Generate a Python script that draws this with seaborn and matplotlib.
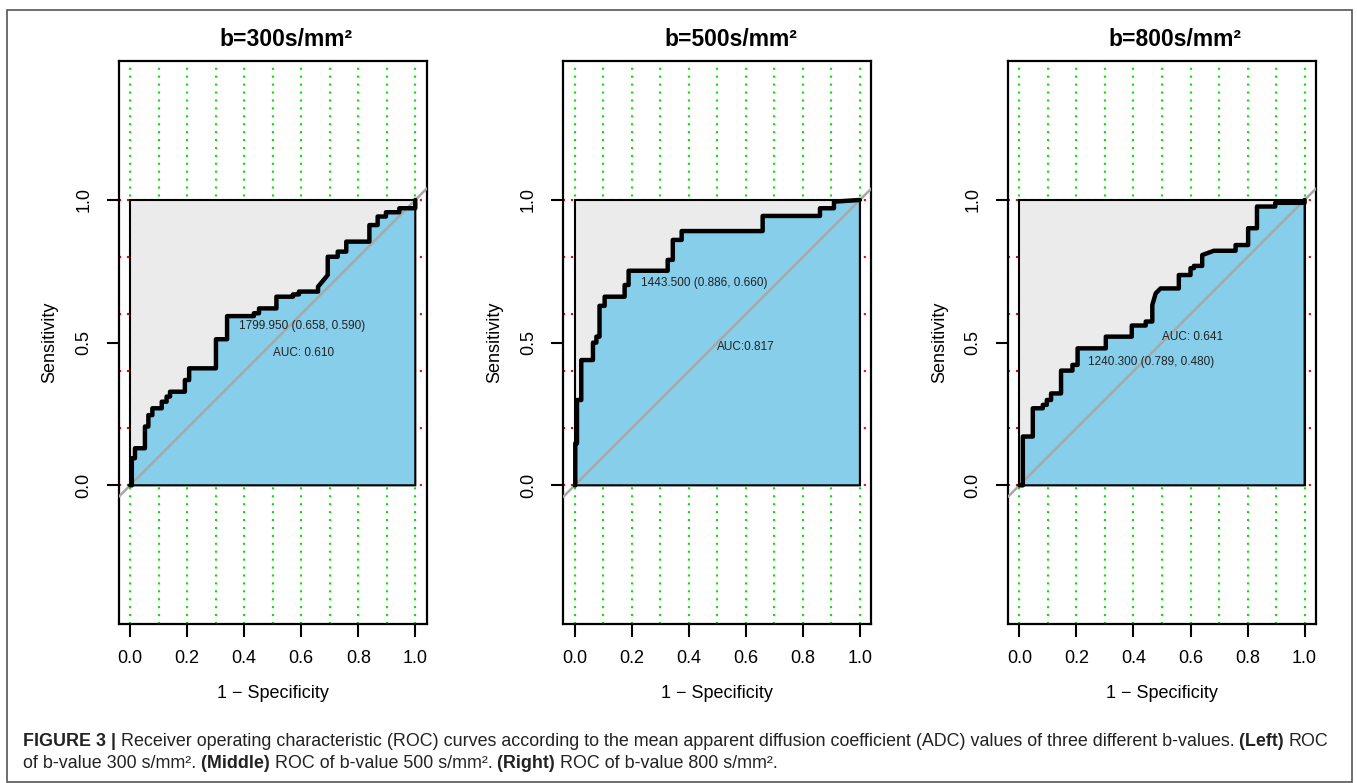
import matplotlib
matplotlib.use('Agg')
import matplotlib.pyplot as plt
import seaborn as sns
from matplotlib.font_manager import FontProperties
from matplotlib.patches import Rectangle

# panel titles
titles = ['b=300s/mm²', 'b=500s/mm²', 'b=800s/mm²']

# ROC curve corners (x = 1 - specificity, y = sensitivity)
fpr_300 = [0, 0.006, 0.006, 0.017, 0.017, 0.052, 0.052, 0.064, 0.064, 0.078, 0.078, 0.111, 0.111,
           0.128, 0.128, 0.140, 0.140, 0.192, 0.192, 0.207, 0.207, 0.301, 0.301, 0.340, 0.340,
           0.434, 0.434, 0.452, 0.452, 0.513, 0.513, 0.571, 0.571, 0.592, 0.592, 0.659, 0.659,
           0.693, 0.693, 0.728, 0.728, 0.758, 0.758, 0.839, 0.839, 0.868, 0.868, 0.897, 0.897,
           0.944, 0.944, 1.0, 1.0]
tpr_300 = [0, 0, 0.095, 0.095, 0.130, 0.130, 0.206, 0.206, 0.246, 0.246, 0.270, 0.270, 0.293,
           0.293, 0.311, 0.311, 0.328, 0.328, 0.369, 0.369, 0.410, 0.410, 0.512, 0.512, 0.593,
           0.593, 0.603, 0.603, 0.620, 0.620, 0.661, 0.661, 0.669, 0.669, 0.679, 0.679, 0.696,
           0.737, 0.801, 0.801, 0.819, 0.819, 0.854, 0.854, 0.912, 0.912, 0.942, 0.942, 0.957,
           0.957, 0.971, 0.971, 1.0]

fpr_500 = [0, 0.002, 0.002, 0.008, 0.008, 0.023, 0.023, 0.064, 0.064, 0.076, 0.076, 0.087, 0.087,
           0.105, 0.105, 0.175, 0.175, 0.189, 0.189, 0.326, 0.326, 0.344, 0.344, 0.375, 0.375,
           0.659, 0.659, 0.860, 0.860, 0.909, 0.909, 1.0]
tpr_500 = [0, 0, 0.147, 0.147, 0.299, 0.299, 0.439, 0.439, 0.500, 0.500, 0.521, 0.521, 0.629,
           0.629, 0.661, 0.661, 0.702, 0.702, 0.752, 0.752, 0.790, 0.790, 0.860, 0.860, 0.891,
           0.891, 0.944, 0.944, 0.971, 0.971, 0.994, 1.0]

fpr_800 = [0, 0.012, 0.012, 0.047, 0.047, 0.082, 0.082, 0.096, 0.096, 0.111, 0.111, 0.146, 0.146,
           0.186, 0.186, 0.204, 0.204, 0.303, 0.303, 0.394, 0.394, 0.443, 0.443, 0.466, 0.466,
           0.478, 0.495, 0.559, 0.559, 0.600, 0.600, 0.612, 0.612, 0.641, 0.641, 0.682, 0.758,
           0.758, 0.802, 0.802, 0.833, 0.833, 0.897, 0.897, 1.0, 1.0]
tpr_800 = [0, 0, 0.171, 0.171, 0.270, 0.270, 0.282, 0.282, 0.299, 0.299, 0.322, 0.322, 0.402,
           0.402, 0.422, 0.422, 0.480, 0.480, 0.521, 0.521, 0.560, 0.560, 0.574, 0.574, 0.632,
           0.673, 0.690, 0.690, 0.737, 0.737, 0.761, 0.761, 0.769, 0.769, 0.807, 0.822, 0.822,
           0.842, 0.842, 0.901, 0.901, 0.977, 0.977, 0.990, 0.990, 1.0]

fprs = [fpr_300, fpr_500, fpr_800]
tprs = [tpr_300, tpr_500, tpr_800]

thr_labels = ['1799.950 (0.658, 0.590)', '1443.500 (0.886, 0.660)', '1240.300 (0.789, 0.480)']
thr_pos = [(0.382, 0.558), (0.233, 0.710), (0.242, 0.431)]
auc_labels = ['AUC: 0.610', 'AUC:0.817', 'AUC: 0.641']
auc_pos = [(0.500, 0.462), (0.498, 0.484), (0.499, 0.519)]

x_ticks = [0.0, 0.2, 0.4, 0.6, 0.8, 1.0]
y_ticks = [0.0, 0.5, 1.0]
x_grid = [i / 10 for i in range(11)]
y_grid = [i / 5 for i in range(6)]

sns.set_style('ticks')
plt.rcParams['font.family'] = ['Liberation Sans', 'DejaVu Sans']
plt.rcParams['text.color'] = 'black'
plt.rcParams['axes.labelcolor'] = 'black'
plt.rcParams['xtick.color'] = 'black'
plt.rcParams['ytick.color'] = 'black'

W, H = 1357, 783
fig = plt.figure(figsize=(W / 100, H / 100), dpi=100)

lefts = [118.7, 563.3, 1008.0]
for i in range(3):
    ax = fig.add_axes([lefts[i] / W, 1 - 624 / H, 308 / W, 563 / H])
    ax.set_xlim(-0.04, 1.04)
    ax.set_ylim(-0.486, 1.487)

    # dotted grids (green vertical, red horizontal), under the polygons
    for gx in x_grid:
        ax.axvline(gx, color='#00e600', lw=1.5, ls=(0, (1, 2.8)), zorder=1)
    for gy in y_grid:
        ax.axhline(gy, color='#ff0000', lw=1.5, ls=(0, (1, 2.8)), zorder=1)

    # max auc polygon and auc polygon
    ax.fill([0, 0, 1, 1], [0, 1, 1, 0], facecolor='#ebebeb', edgecolor='black', lw=1.5, zorder=2)
    ax.fill(fprs[i] + [1, 0], tprs[i] + [0, 0], facecolor='#87ceeb', edgecolor='black',
            lw=1.5, zorder=3)
    ax.axline((0, 0), (1, 1), color='#a8a8a8', lw=1.8, zorder=4)
    sns.lineplot(x=fprs[i], y=tprs[i], sort=False, estimator=None, color='black', lw=3.2,
                 ax=ax, zorder=5)

    ax.text(thr_pos[i][0], thr_pos[i][1], thr_labels[i], fontsize=8.5, ha='left', va='center',
            color='#222222', zorder=6)
    ax.text(auc_pos[i][0], auc_pos[i][1], auc_labels[i], fontsize=8.5, ha='left', va='center',
            color='#222222', zorder=6)

    ax.set_xticks(x_ticks, labels=['%.1f' % v for v in x_ticks])
    ax.set_yticks(y_ticks, labels=['%.1f' % v for v in y_ticks], rotation=90, va='center')
    ax.tick_params(length=9, width=1.5, direction='out', labelsize=13, color='black', pad=10)
    for sp in ax.spines.values():
        sp.set_visible(True)
        sp.set_color('black')
        sp.set_linewidth(1.6)
    ax.set_xlabel('1 − Specificity', fontsize=13, labelpad=13)
    ax.set_ylabel('Sensitivity', fontsize=13, labelpad=12)
    ax.text(0.543, 1 + 21 / 563, titles[i], transform=ax.transAxes, ha='center', va='center',
            fontsize=16.5, fontweight='bold')

# outer frame
fig.add_artist(Rectangle((7 / W, 1 - 782 / H), (1352 - 7) / W, (782 - 10) / H,
                         transform=fig.transFigure, fill=False, edgecolor='#555555', lw=1.2))

# caption, built from bold / normal runs
renderer = fig.canvas.get_renderer()


def props(size, bold):
    return FontProperties(family=['Liberation Sans', 'DejaVu Sans'], size=size,
                          weight='bold' if bold else 'normal')


def run_width(s, size, bold):
    fp = props(size, bold)
    w1, _, _ = renderer.get_text_width_height_descent('|' + s + '|', fp, ismath=False)
    w2, _, _ = renderer.get_text_width_height_descent('||', fp, ismath=False)
    return w1 - w2


line1 = [('FIGURE 3 | ', True),
         ('Receiver operating characteristic (ROC) curves according to the mean apparent '
          'diffusion coefficient (ADC) values of three different b-values. ', False),
         ('(Left) ', True), ('ROC', False)]
line2 = [('of b-value 300 s/mm². ', False), ('(Middle) ', True),
         ('ROC of b-value 500 s/mm². ', False), ('(Right) ', True),
         ('ROC of b-value 800 s/mm².', False)]

base = 10
total = sum(run_width(s, base, b) for s, b in line1)
cap_size = base * (1330 - 22.7) / total

for runs, ypx in [(line1, 746), (line2, 768)]:
    x = 22.7
    for s, b in runs:
        fig.text(x / W, 1 - ypx / H, s, fontproperties=props(cap_size, b), va='baseline',
                 ha='left', color='#222222')
        x += run_width(s, cap_size, b)

fig.savefig('out.png', dpi=100)
